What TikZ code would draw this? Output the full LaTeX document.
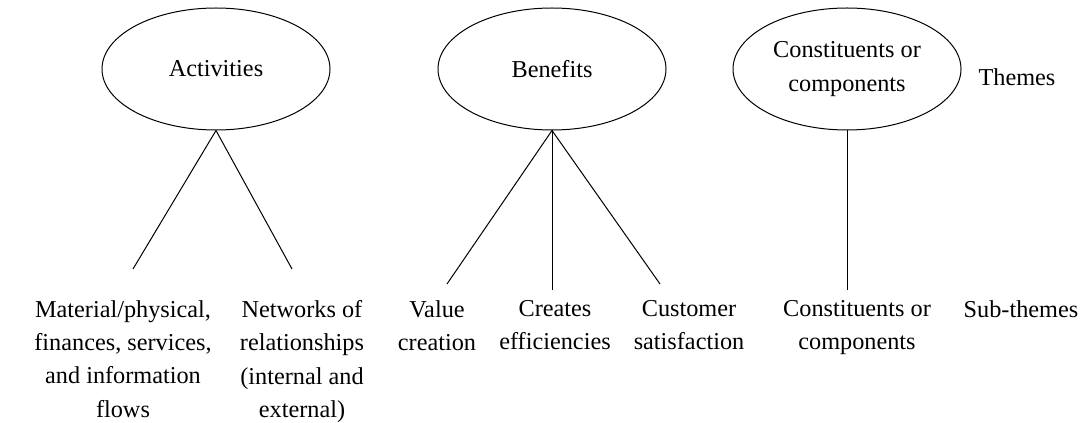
\documentclass[tikz,border=0pt]{standalone}
\usepackage{fontspec}
\setmainfont{Liberation Serif}
\usetikzlibrary{shapes.geometric}

\tikzset{
  theme/.style={draw, ellipse, line width=0.75pt, minimum width=171pt, minimum height=91.5pt, inner sep=0pt, align=center, font=\fontsize{18.2}{25}\selectfont},
  subtheme/.style={anchor=north, inner sep=0pt, align=center, font=\fontsize{18.2}{25}\selectfont},
  branch/.style={line width=0.75pt}
}

\begin{document}
\begin{tikzpicture}[x=0.75pt,y=0.75pt,yscale=-1,xscale=1]
		\useasboundingbox (0,0) rectangle (1081,423);
		
		% Themes
		\node [theme] (act) at (216,69) {Activities};
		\node [theme] (ben) at (552,69) {Benefits};
		\node [theme] (con) at (847,69) {Constituents or\\components};
		\node [subtheme, anchor=center] (thm) at (1017,77) {Themes};
		
		% Sub-themes
		\node [subtheme] (mat) at (123,300) {Material/physical,\\finances, services,\\and information\\flows};
		\node [subtheme] (net) at (302,300) {Networks of\\relationships\\(internal and\\external)};
		\node [subtheme] (val) at (437,300) {Value\\creation};
		\node [subtheme] (cre) at (555,300) {Creates\\efficiencies};
		\node [subtheme] (cus) at (689,300) {Customer\\satisfaction};
		\node [subtheme] (cmp) at (857,300) {Constituents or\\components};
		\node [subtheme] (sub) at (1021,300) {Sub-themes};
		
		% Line ends
		\coordinate (mat end) at (133,269);
		\coordinate (net end) at (292,269);
		\coordinate (val end) at (447,284);
		\coordinate (cre end) at (552,290);
		\coordinate (cus end) at (660,284);
		\coordinate (cmp end) at (847,290);
		
		% Branches
		\draw [branch] (act.south) -- (mat end);
		\draw [branch] (act.south) -- (net end);
		\draw [branch] (ben.south) -- (val end);
		\draw [branch] (ben.south) -- (cre end);
		\draw [branch] (ben.south) -- (cus end);
		\draw [branch] (con.south) -- (cmp end);
		
\end{tikzpicture}
\end{document}
